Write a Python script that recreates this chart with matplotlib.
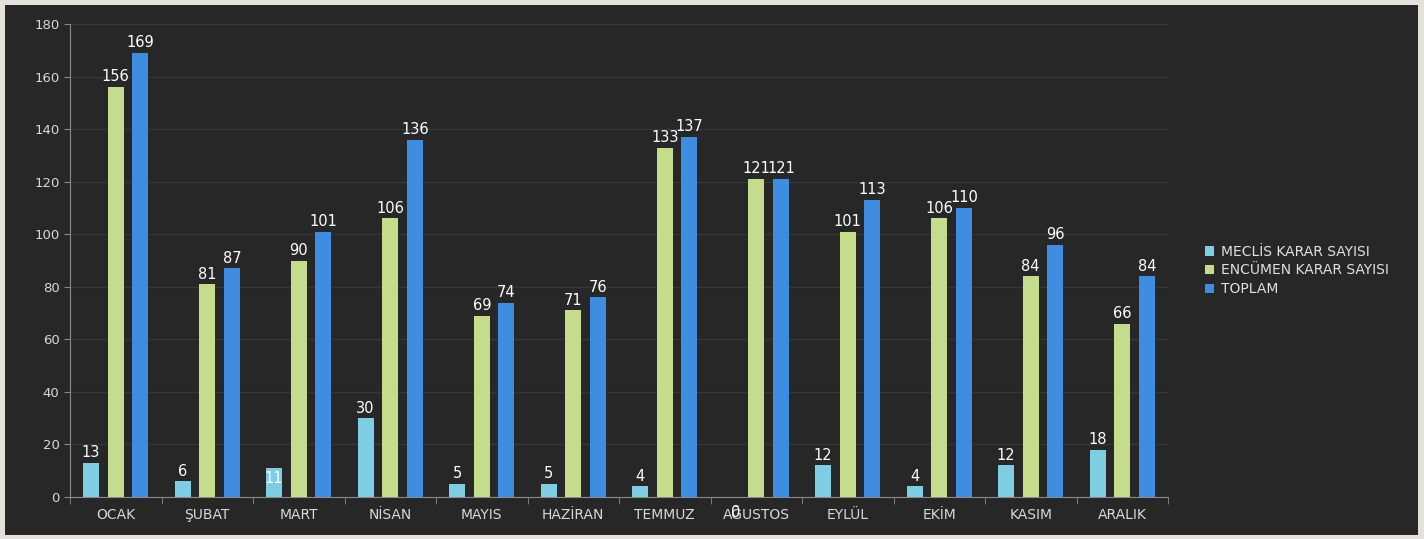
import numpy as np
import matplotlib.pyplot as plt
from matplotlib.patches import Rectangle

# data
months = ["OCAK", "ŞUBAT", "MART", "NİSAN", "MAYIS", "HAZİRAN",
          "TEMMUZ", "AĞUSTOS", "EYLÜL", "EKİM", "KASIM", "ARALIK"]
meclis = [13, 6, 11, 30, 5, 5, 4, 0, 12, 4, 12, 18]
encumen = [156, 81, 90, 106, 69, 71, 133, 121, 101, 106, 84, 66]
toplam = [169, 87, 101, 136, 74, 76, 137, 121, 113, 110, 96, 84]

series = [("MECLİS KARAR SAYISI", meclis, "#7fcde3"),
          ("ENCÜMEN KARAR SAYISI", encumen, "#c4dc8c"),
          ("TOPLAM", toplam, "#3f8de0")]

txt = "#d8d8d8"
bg = "#272727"

fig = plt.figure(figsize=(14.24, 5.39), dpi=100, facecolor="#e4e1dc")
fig.patches.append(Rectangle((5/1424, 4/539), 1413/1424, 530/539,
                             transform=fig.transFigure, facecolor=bg,
                             edgecolor="none", zorder=-10))

ax = fig.add_axes([70/1424, 1 - 497/539, 1098/1424, 473/539])
ax.set_facecolor("none")

x = np.arange(len(months))
w = 0.175
offs = [-0.27, 0.0, 0.27]
for (name, vals, col), o in zip(series, offs):
    bars = ax.bar(x + o, vals, width=w, color=col, label=name, zorder=3)
    for xi, v in zip(x + o, vals):
        if v == 11:
            ax.text(xi, v - 7, str(v), ha="center", va="bottom",
                    color="white", fontsize=10.5, zorder=4)
        elif v == 0:
            ax.text(xi + 0.04, -6, str(v), ha="center", va="center",
                    color="white", fontsize=10.5, zorder=4)
        else:
            ax.text(xi, v + 1, str(v), ha="center", va="bottom",
                    color="white", fontsize=10.5, zorder=4)

ax.set_xlim(-0.5, len(months) - 0.5)
ax.set_ylim(0, 180)
ax.set_yticks(range(0, 181, 20))
ax.set_xticks(x)
ax.set_xticklabels(months)
ax.set_xticks(np.arange(-0.5, len(months), 1), minor=True)
ax.tick_params(axis="x", which="major", length=0, colors=txt, labelsize=10, pad=8)
ax.tick_params(axis="x", which="minor", length=5, color="#8a8a8a", direction="out")
ax.tick_params(axis="y", length=4, color="#8a8a8a", colors=txt, labelsize=9.5)
ax.grid(axis="y", color="#363636", lw=1, zorder=0)
for s in ["top", "right"]:
    ax.spines[s].set_visible(False)
for s in ["left", "bottom"]:
    ax.spines[s].set_color("#8a8a8a")

leg = fig.legend(loc="upper left", bbox_to_anchor=(1192/1424, 1 - 232/539),
                 frameon=False, fontsize=10, handlelength=0.7, handleheight=0.7,
                 handletextpad=0.5, labelspacing=0.35)
for t in leg.get_texts():
    t.set_color("#e0e0e0")

plt.savefig("out.png", dpi=100, facecolor=fig.get_facecolor())
